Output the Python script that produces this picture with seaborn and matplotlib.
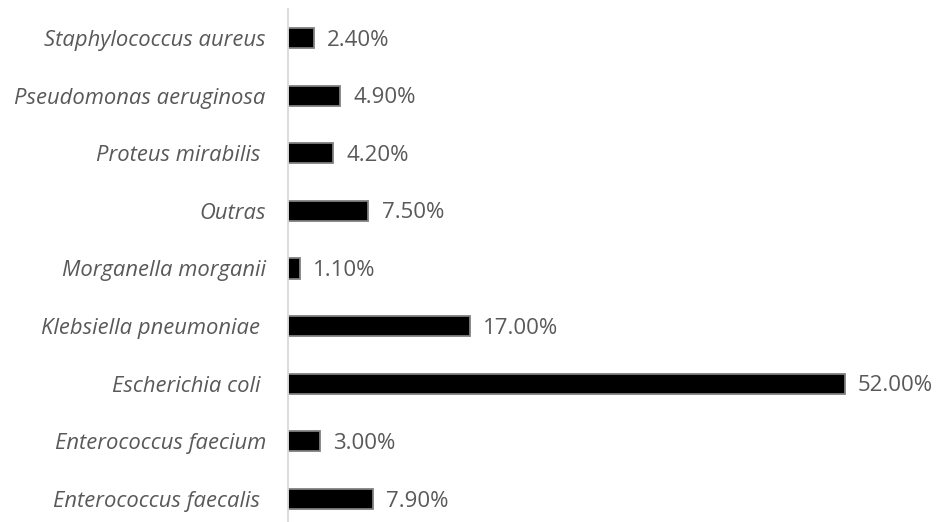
import matplotlib
matplotlib.use("Agg")
import matplotlib.pyplot as plt
import seaborn as sns
import pandas as pd

# Isolated bacteria (top to bottom) and their share of isolates, in percent
species = [
    "Staphylococcus aureus",
    "Pseudomonas aeruginosa",
    "Proteus mirabilis ",
    "Outras",
    "Morganella morganii",
    "Klebsiella pneumoniae ",
    "Escherichia coli ",
    "Enterococcus faecium",
    "Enterococcus faecalis ",
]
share = [2.4, 4.9, 4.2, 7.5, 1.1, 17.0, 52.0, 3.0, 7.9]

df = pd.DataFrame({"species": species, "share": share})

sns.set_theme(style="white")
plt.rcParams["font.family"] = ["Open Sans", "DejaVu Sans"]

W, H, DPI = 936, 522, 100
fig = plt.figure(figsize=(W / DPI, H / DPI), dpi=DPI)
left_px, top_px = 288, 9.2
ax = fig.add_axes([left_px / W, 0, 1 - left_px / W, 1 - top_px / H])

sns.barplot(data=df, x="share", y="species", orient="h", color="black",
            saturation=1, width=0.35, edgecolor="#808080", linewidth=1.3, ax=ax)

ax.set_ylim(8.4, -0.5)
ax.set_xlim(0, (W - left_px) / 10.71)

for i, v in enumerate(share):
    ax.annotate(f"{v:.2f}%", xy=(v, i), xytext=(9.5, -1.5), textcoords="offset points",
                va="center", ha="left", fontsize=16, color="#595959")

ax.set_xlabel("")
ax.set_ylabel("")
ax.set_xticks([])
for lbl in ax.get_yticklabels():
    lbl.set_fontstyle("italic")
    lbl.set_color("#595959")
    lbl.set_fontsize(15.8)
ax.tick_params(axis="y", length=0, pad=16)

for s in ["top", "right", "bottom"]:
    ax.spines[s].set_visible(False)
ax.spines["left"].set_color("#d9d9d9")
ax.spines["left"].set_linewidth(1.3)

fig.savefig("out.png", dpi=DPI)
